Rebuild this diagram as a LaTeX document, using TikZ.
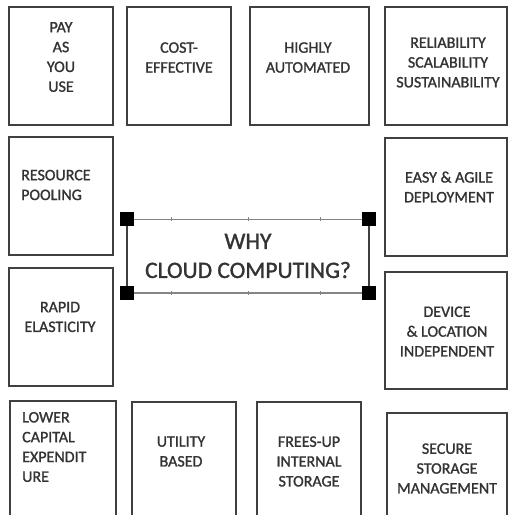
\documentclass[tikz,border=0pt]{standalone}
\usepackage{fontspec}
\setmainfont{Carlito}[FakeBold=1.2]
\usetikzlibrary{calc}
\definecolor{ink}{HTML}{333333}
\definecolor{frame}{HTML}{404040}
\definecolor{rail}{HTML}{858585}
\begin{document}
\begin{tikzpicture}[x=1pt,y=-1pt,
  card/.style={draw=frame, line width=2pt, inner sep=0pt},
  lbl/.style={text=ink, font=\fontsize{16}{19.8}\selectfont, align=center, inner sep=0pt},
  lbll/.style={lbl, align=left, anchor=west},
  handle/.style={fill=black, minimum size=14pt, inner sep=0pt}]
\useasboundingbox (0,0) rectangle (511,517);
\fill[white] (0,0) rectangle (511,517);

\begin{scope}
\clip (0,0) rectangle (511,514);
% top row
\node[card, minimum width=104pt, minimum height=118pt] (b1) at (61,66) {};
\node[card, minimum width=104pt, minimum height=118pt] (b2) at (179,66) {};
\node[card, minimum width=119pt, minimum height=118pt] (b3) at (309.5,66) {};
\node[card, minimum width=122pt, minimum height=118pt] (b4) at (446,66) {};
% side columns
\node[card, minimum width=104pt, minimum height=118pt] (b5) at (61,196) {};
\node[card, minimum width=104pt, minimum height=118pt] (b6) at (61,327) {};
\node[card, minimum width=122pt, minimum height=118pt] (b7) at (446,197) {};
\node[card, minimum width=122pt, minimum height=117pt] (b8) at (446,330.5) {};
% bottom row, running off the lower edge
\node[card, minimum width=106pt, minimum height=129pt] (b9) at (63,465.5) {};
\node[card, minimum width=104pt, minimum height=128pt] (b10) at (184,466) {};
\node[card, minimum width=104pt, minimum height=128pt] (b11) at (309,466) {};
\node[card, minimum width=120pt, minimum height=117pt] (b12) at (447,471.5) {};
\end{scope}

% labels
\node[lbl] (t1) at (61,57) {PAY\\AS\\YOU\\USE};
\node[lbl] (t2) at (179,57.5) {COST-\\EFFECTIVE};
\node[lbl] (t3) at (308,57.5) {HIGHLY\\AUTOMATED};
\node[lbl] (t4) at (448,62.5) {RELIABILITY\\SCALABILITY\\SUSTAINABILITY};
\node[lbll] (t5) at (21,185) {RESOURCE\\POOLING};
\node[lbl] (t6) at (60,317) {RAPID\\ELASTICITY};
\node[lbl] (t7) at (449,187) {EASY \& AGILE\\DEPLOYMENT};
\node[lbl] (t8) at (447,331.5) {DEVICE\\\& LOCATION\\INDEPENDENT};
\node[lbll] (t9) at (22,447) {LOWER\\CAPITAL\\EXPENDIT\\URE};
\node[lbl] (t10) at (181,451.5) {UTILITY\\BASED};
\node[lbl] (t11) at (309,461.5) {FREES-UP\\INTERNAL\\STORAGE};
\node[lbl] (t12) at (447,468.5) {SECURE\\STORAGE\\MANAGEMENT};

% central selected text box
\node[lbl, font=\fontsize{23.5}{29}\selectfont, minimum width=242pt, minimum height=73pt] (why) at (248,256) {WHY\\CLOUD COMPUTING?};
\draw[rail, line width=1.6pt] (why.north west) -- (why.north east);
\draw[rail, line width=1.6pt] (why.south west) -- (why.south east);
\draw[frame, line width=1.8pt] (why.north west) -- (why.south west);
\draw[frame, line width=1.8pt] (why.north east) -- (why.south east);
\foreach \f in {0.186,0.5,0.797}{
  \draw[rail, line width=0.8pt] ($(why.north west)!\f!(why.north east)$) ++(0,-2) -- ++(0,4);
  \draw[rail, line width=0.8pt] ($(why.south west)!\f!(why.south east)$) ++(0,-2) -- ++(0,4);
}
\node[handle] (h1) at (why.north west) {};
\node[handle] (h2) at (why.north east) {};
\node[handle] (h3) at (why.south west) {};
\node[handle] (h4) at (why.south east) {};
\end{tikzpicture}
\end{document}
